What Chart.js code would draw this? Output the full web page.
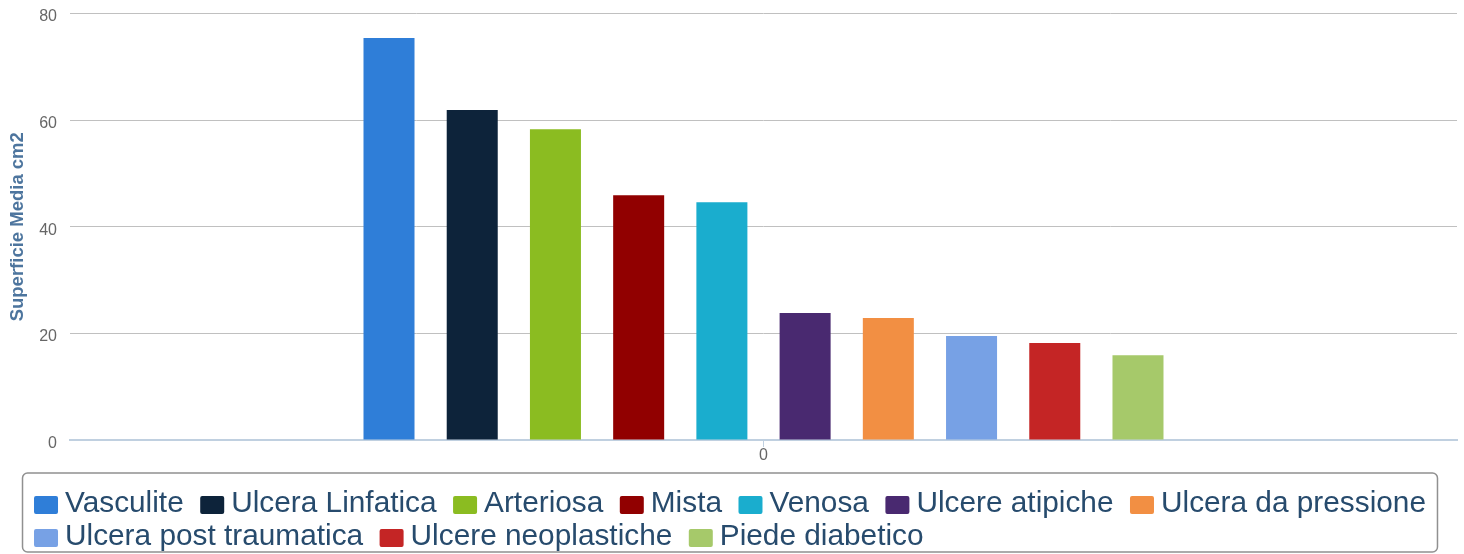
<!DOCTYPE html>
<html>
<head>
<meta charset="utf-8">
<title>Superficie Media cm2</title>
<script src="https://cdn.jsdelivr.net/npm/chart.js@4.4.1/dist/chart.umd.min.js"></script>
<style>
  body { margin: 0; background: #fff; }
  #grafico { display: block; }
</style>
</head>
<body>
<canvas id="grafico" width="1464" height="554"></canvas>
<script>
// Dati del grafico
const categorie = ['0'];
const tipiUlcera = ['Vasculite', 'Ulcera Linfatica', 'Arteriosa', 'Mista', 'Venosa', 'Ulcere atipiche', 'Ulcera da pressione', 'Ulcera post traumatica', 'Ulcere neoplastiche', 'Piede diabetico'];
const superficieMedia = [75.4, 61.9, 58.3, 45.9, 44.6, 23.8, 22.9, 19.5, 18.2, 15.9];
const colori = ['#2f7ed8', '#0d233a', '#8bbc21', '#910000', '#1aadce', '#492970', '#f28f43', '#77a1e5', '#c42525', '#a6c96a'];
const tickAsseY = [0, 20, 40, 60, 80];

Chart.defaults.font.family = '"Liberation Sans", Arial, sans-serif';

// Legenda disegnata a mano con bordo arrotondato (stile del grafico originale)
const legendaBordata = {
    id: 'legendaBordata',
    afterDraw(chart, args, o) {
        const ctx = chart.ctx;
        ctx.save();
        ctx.font = o.font;
        const voci = chart.data.datasets.map(ds => ({
            testo: ds.label,
            colore: ds.backgroundColor,
            w: o.boxWidth + o.boxGap + ctx.measureText(ds.label).width
        }));

        // divide le voci in righe
        const maxW = chart.width - 2 * o.margin - 2 * o.padding;
        const righe = [[]];
        const larghezze = [0];
        voci.forEach(v => {
            const riga = righe[righe.length - 1];
            const nuova = riga.length ? larghezze[larghezze.length - 1] + o.itemGap + v.w : v.w;
            if (riga.length && nuova > maxW) {
                righe.push([v]);
                larghezze.push(v.w);
            } else {
                riga.push(v);
                larghezze[larghezze.length - 1] = nuova;
            }
        });

        const boxW = Math.max(...larghezze) + 2 * o.padding;
        const boxH = o.firstBaseline + (righe.length - 1) * o.rowHeight + o.bottomPad;
        const left = (chart.width - boxW) / 2 + o.shiftX;
        const top = chart.scales.x.bottom + o.gapTop;

        ctx.strokeStyle = o.borderColor;
        ctx.lineWidth = o.borderWidth;
        ctx.beginPath();
        ctx.roundRect(left, top, boxW, boxH, 5);
        ctx.stroke();

        ctx.textAlign = 'left';
        ctx.textBaseline = 'alphabetic';
        righe.forEach((riga, r) => {
            let x = left + o.padding;
            const base = top + o.firstBaseline + r * o.rowHeight;
            riga.forEach(v => {
                ctx.fillStyle = v.colore;
                ctx.beginPath();
                ctx.roundRect(x, base - 16, o.boxWidth, o.boxHeight, 2);
                ctx.fill();
                ctx.fillStyle = o.color;
                ctx.fillText(v.testo, x + o.boxWidth + o.boxGap, base);
                x += v.w + o.itemGap;
            });
        });
        ctx.restore();
    }
};

const ctx = document.getElementById('grafico').getContext('2d');

const grafico = new Chart(ctx, {
    type: 'bar',
    data: {
        labels: categorie,
        datasets: tipiUlcera.map((nome, i) => ({
            label: nome,
            data: [superficieMedia[i]],
            backgroundColor: colori[i],
            borderWidth: 0,
            categoryPercentage: 0.6,
            barPercentage: 0.613
        }))
    },
    options: {
        responsive: false,
        animation: false,
        layout: {
            padding: { top: 13.5, right: 7, bottom: 89, left: 0 }
        },
        scales: {
            x: {
                grid: {
                    offset: false,
                    drawOnChartArea: false,
                    drawTicks: true,
                    tickLength: 7,
                    color: '#c0d0e0',
                    lineWidth: 1
                },
                border: { display: true, color: '#c0d0e0', width: 2 },
                ticks: {
                    color: '#666666',
                    font: { size: 16, lineHeight: 1 },
                    padding: 1
                }
            },
            y: {
                min: 0,
                max: 80,
                afterBuildTicks: scale => {
                    scale.ticks = tickAsseY.map(v => ({ value: v }));
                },
                // le etichette possono sporgere sopra l'area del grafico
                afterFit: scale => {
                    scale.paddingTop = 0;
                    scale.paddingBottom = 0;
                },
                grid: {
                    drawTicks: false,
                    color: c => c.tick && c.tick.value === 0 ? 'rgba(0,0,0,0)' : '#c0c0c0',
                    lineWidth: 1
                },
                border: { display: false },
                ticks: {
                    color: '#666666',
                    font: { size: 16 },
                    padding: 13,
                    labelOffset: 3.5
                },
                title: {
                    display: true,
                    text: 'Superficie Media cm2',
                    color: '#4d759e',
                    font: { size: 18.5, weight: 'bold' },
                    padding: { top: 6.9, bottom: -2.9 }
                }
            }
        },
        plugins: {
            legend: { display: false },
            tooltip: { enabled: false },
            legendaBordata: {
                font: '29.8px "Liberation Sans", Arial, sans-serif',
                color: '#274b6d',
                boxWidth: 24,
                boxHeight: 18,
                boxGap: 7,
                itemGap: 16.5,
                padding: 11.5,
                margin: 14,
                rowHeight: 33,
                firstBaseline: 39,
                bottomPad: 7,
                gapTop: 8,
                shiftX: -2,
                borderColor: '#909090',
                borderWidth: 1.5
            }
        }
    },
    plugins: [legendaBordata]
});
</script>
</body>
</html>
